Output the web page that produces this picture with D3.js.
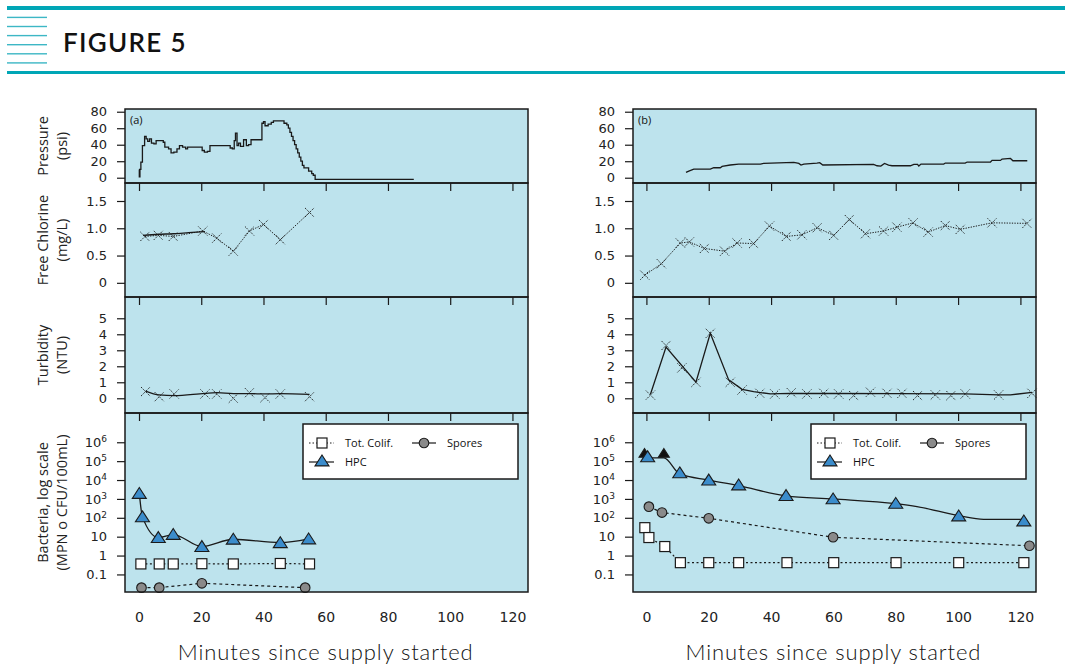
<!DOCTYPE html>
<html>
<head>
<meta charset="utf-8">
<script src="https://cdn.jsdelivr.net/npm/d3@7"></script>
<style>
  body { margin: 0; background: #fff; }
  svg { display: block; }
</style>
</head>
<body>
<script>
// Data (minutes since supply started, value)
//= ================================
var xTicks = [0, 20, 40, 60, 80, 100, 120];
var pressureTicks = [0, 20, 40, 60, 80];
var chlorineTicks = [0, 0.5, 1.0, 1.5];
var turbidityTicks = [0, 1, 2, 3, 4, 5];
var bacteriaTicks = [0.1, 1, 10, 1e2, 1e3, 1e4, 1e5, 1e6];

// (a) pressure, psi (step trace)
var pressureA = [[0.0, 10], [0.1, 1], [0.3, 10], [0.6, 19], [1.1, 39], [1.8, 50], [2.3, 47], [2.8, 44],
  [3.4, 47], [4.0, 42], [4.8, 41], [5.5, 45], [6.5, 45], [7.8, 43], [8.3, 37], [9.5, 35], [10.3, 30],
  [11.2, 31], [12.2, 35], [13.0, 39], [14.0, 37], [15.0, 35], [15.6, 37], [19.5, 37], [20.3, 33],
  [21.0, 31], [22.0, 32], [22.8, 39], [28.5, 39], [29.3, 36], [30.0, 35], [30.6, 45], [31.0, 54],
  [31.5, 39], [32.0, 42], [32.6, 38], [33.6, 46], [34.5, 39], [35.2, 40], [36.0, 46], [39.2, 46],
  [39.5, 66], [40.0, 68], [40.5, 63], [41.5, 65], [42.5, 67], [43.2, 69], [46.2, 69], [46.6, 66],
  [47.5, 64], [48.0, 60], [48.5, 55], [49.0, 50], [49.5, 45], [50.0, 40], [50.5, 35], [51.0, 30],
  [51.5, 25], [52.0, 20], [52.5, 15], [53.0, 12], [54.2, 12], [54.5, 8], [55.5, 5], [56.0, 3],
  [56.6, -2], [88.3, -2]];
// (b) pressure, psi
var pressureB = [[12.7, 6.5], [13.6, 8.1], [15.2, 10.5], [20.5, 10.5], [21.6, 12.1], [23.7, 12.1],
  [24.3, 13.7], [26.9, 15.4], [29.6, 16.6], [36.6, 16.6], [37.6, 17.4], [47.3, 18.6], [48.9, 17.4],
  [49.6, 15.4], [50.5, 16.6], [54.7, 17.8], [55.6, 18.2], [56.6, 15.4], [72.9, 16.2], [74.0, 14.5],
  [75.2, 14.1], [76.4, 17.4], [77.7, 15.4], [78.8, 14.5], [84.7, 14.5], [85.8, 16.2], [87.0, 16.2],
  [87.4, 14.1], [88.1, 16.6], [95.4, 16.6], [95.9, 17.8], [102.3, 17.8], [102.9, 19], [110.4, 19],
  [110.9, 21], [113.6, 21], [114.1, 22.6], [116.8, 23.4], [117.6, 20.6], [122.2, 20.6]];

// free chlorine, mg/L (grab samples) and continuous trace
var chlorineA = [[1.9, 0.85], [6.2, 0.87], [11.0, 0.85], [20.5, 0.95], [25.0, 0.82], [30.3, 0.58],
  [35.5, 0.95], [40.0, 1.07], [45.4, 0.79], [54.8, 1.29]];
var chlorineLineA = [[1.3, 0.87], [6.2, 0.89], [11.0, 0.9], [16.0, 0.92], [21.2, 0.94]];
var chlorineB = [[-0.5, 0.14], [4.8, 0.35], [10.9, 0.73], [13.8, 0.75], [18.6, 0.63], [25.1, 0.58],
  [29.1, 0.73], [34.4, 0.72], [39.5, 1.04], [44.9, 0.85], [49.9, 0.88], [54.8, 1.01], [60.1, 0.87],
  [65.1, 1.16], [70.3, 0.9], [76.1, 0.95], [80.4, 1.02], [85.6, 1.1], [90.4, 0.93], [95.9, 1.05],
  [100.7, 0.98], [110.9, 1.1], [122.1, 1.09]];

// turbidity, NTU
var turbidityA = [[2.1, 0.42], [6.5, 0.1], [11.3, 0.27], [21.2, 0.27], [25.0, 0.27], [30.3, 0.0],
  [35.5, 0.35], [40.5, 0.04], [45.4, 0.27], [54.8, 0.1]];
var turbidityLineA = [[2.1, 0.45], [6.5, 0.21], [11.3, 0.17], [21.2, 0.31], [25.0, 0.35], [30.3, 0.29],
  [35.5, 0.29], [40.5, 0.27], [45.4, 0.29], [54.8, 0.25]];
var turbidityB = [[1.3, 0.2], [6.3, 3.3], [11.4, 1.9], [15.9, 1.0], [20.5, 4.06], [26.9, 1.0],
  [30.7, 0.52], [36.4, 0.31], [41.2, 0.27], [46.5, 0.35], [51.5, 0.27], [56.9, 0.31], [61.7, 0.27],
  [66.5, 0.17], [71.9, 0.38], [77.2, 0.31], [82.0, 0.31], [87.0, 0.17], [92.7, 0.21], [97.7, 0.17],
  [102.3, 0.27], [113.0, 0.21], [123.7, 0.31]];
var turbidityLineB = [[1.3, 0.25], [6.3, 3.2], [15.9, 1.0], [20.5, 4.06], [26.4, 1.15], [30.7, 0.56],
  [34.4, 0.42], [39.8, 0.27], [46.0, 0.31], [60.0, 0.3], [80.0, 0.29], [102.3, 0.27], [113.0, 0.21],
  [116.8, 0.21], [123.7, 0.37]];

// bacteria, MPN or CFU/100mL
var hpcA = [[0.1, 1950], [1.1, 112], [6.2, 9], [11.0, 13], [20.2, 3], [30.3, 7.3], [45.4, 4.8], [54.5, 7.6]];
var colifA = [[0.6, 0.36], [6.5, 0.36], [11.0, 0.36], [20.2, 0.37], [30.3, 0.36], [45.4, 0.38], [54.8, 0.36]];
var sporesA = [[0.8, 0.02], [6.5, 0.02], [20.2, 0.034], [53.4, 0.02]];

var hpcB = [[0.4, 1.7e5], [10.7, 2.4e4], [20.0, 1e4], [29.6, 5.5e3], [44.8, 1.5e3], [59.9, 1e3],
  [80.0, 580], [100.2, 125], [121.1, 68]];
var hpcLineB = [[-0.6, 1.5e5], [5.6, 1.5e5], [10.7, 2.1e4], [20.0, 1e4], [29.6, 5e3], [44.8, 1.45e3],
  [59.9, 1e3], [80.0, 560], [86.8, 390], [100.2, 130], [108.2, 83], [121.1, 83]];
var hpcHighB = [[-0.6, 2.6e5], [5.6, 2.6e5]];
var colifB = [[-0.5, 30], [0.8, 9], [5.9, 3], [10.9, 0.42], [20.0, 0.42], [29.6, 0.42], [45.1, 0.42],
  [60.1, 0.42], [80.1, 0.42], [100.2, 0.42], [121.1, 0.42]];
var sporesB = [[0.8, 390], [5.0, 190], [20.0, 94], [59.9, 9.3], [122.9, 3.3]];

var legendNames = ["Tot. Colif.", "Spores", "HPC"];

// Step 1: Set up the page
//= ================================
var svgWidth = 1065;
var svgHeight = 664;
var teal = "#00a6b6";
var panelFill = "#bde3ed";
var blue = "#3b8ccb";
var ink = "#1a1a1a";

var svg = d3.select("body")
  .append("svg")
  .attr("width", svgWidth)
  .attr("height", svgHeight);

// header bar
svg.append("rect").attr("x", 7).attr("y", 6).attr("width", svgWidth - 7).attr("height", 4).attr("fill", teal);
svg.append("rect").attr("x", 7).attr("y", 71).attr("width", svgWidth - 7).attr("height", 3).attr("fill", teal);
d3.range(6).forEach(function(i) {
  svg.append("rect").attr("x", 7).attr("y", 16.7 + i * 9.1).attr("width", 40).attr("height", 1.4)
    .attr("fill", "#3db7c5");
});
svg.append("text").attr("x", 63).attr("y", 52)
  .style("font-family", "Lato, sans-serif").style("font-weight", 600).style("font-size", "26px")
  .style("letter-spacing", "1.3px")
  .attr("fill", "#111").text("FIGURE 5");

// Step 2: Scales
//= ================================
var rows = [
  {key: "pressure", top: 109, bottom: 183, ticks: pressureTicks, fmt: d3.format("d"), t1: "Pressure", t2: "(psi)"},
  {key: "chlorine", top: 183, bottom: 297, ticks: chlorineTicks, fmt: function(d) { return d === 0 ? "0" : d3.format(".1f")(d); }, t1: "Free Chlorine", t2: "(mg/L)"},
  {key: "turbidity", top: 297, bottom: 413, ticks: turbidityTicks, fmt: d3.format("d"), t1: "Turbidity", t2: "(NTU)"},
  {key: "bacteria", top: 413, bottom: 592, ticks: bacteriaTicks, fmt: null, t1: "Bacteria, log scale", t2: "(MPN o CFU/100mL)"}
];

var yScales = {
  pressure: d3.scaleLinear().domain([-6.4, 83.3]).range([183, 109]),
  chlorine: d3.scaleLinear().domain([-0.26, 1.83]).range([297, 183]),
  turbidity: d3.scaleLinear().domain([-0.92, 6.33]).range([413, 297]),
  bacteria: d3.scaleLog().domain([Math.pow(10, -1.93), Math.pow(10, 7.55)]).range([592, 413])
};

var panels = [
  {label: "(a)", left: 125, right: 528, domain: [-4.5, 125],
    pressure: pressureA, pressureCurve: d3.curveStepAfter,
    chlorine: chlorineA, chlorineLine: chlorineLineA,
    turbidity: turbidityA, turbidityLine: turbidityLineA, turbidityCurve: d3.curveMonotoneX,
    hpc: hpcA, hpcLine: hpcA, hpcHigh: [], colif: colifA, spores: sporesA, titles: true},
  {label: "(b)", left: 633, right: 1036, domain: [-4.3, 125],
    pressure: pressureB, pressureCurve: d3.curveLinear,
    chlorine: chlorineB, chlorineLine: [],
    turbidity: turbidityB, turbidityLine: turbidityLineB, turbidityCurve: d3.curveLinear,
    hpc: hpcB, hpcLine: hpcLineB, hpcHigh: hpcHighB, colif: colifB, spores: sporesB, titles: false}
];

var tickFont = "'DejaVu Sans', sans-serif";
var textFont = "'Open Sans', sans-serif";

function crossPath(g, data, x, y) {
  g.selectAll(null).data(data).enter().append("path")
    .attr("d", function(d) {
      var cx = x(d[0]), cy = y(d[1]), s = 4.5;
      return "M" + (cx - s) + "," + (cy - s) + "L" + (cx + s) + "," + (cy + s) +
        "M" + (cx - s) + "," + (cy + s) + "L" + (cx + s) + "," + (cy - s);
    })
    .attr("stroke", ink).attr("stroke-width", 1).attr("stroke-dasharray", "1.3,1.1").attr("fill", "none");
}

function triangle(cx, cy, s) {
  return "M" + cx + "," + (cy - s * 0.85) + "L" + (cx + s) + "," + (cy + s * 0.7) + "L" + (cx - s) + "," + (cy + s * 0.7) + "Z";
}

function drawSquare(g, cx, cy) {
  g.append("rect").attr("x", cx - 5).attr("y", cy - 5).attr("width", 10).attr("height", 10)
    .attr("fill", "#fff").attr("stroke", ink).attr("stroke-width", 1.2);
}
function drawCircle(g, cx, cy) {
  g.append("circle").attr("cx", cx).attr("cy", cy).attr("r", 4.8)
    .attr("fill", "#8a8a8a").attr("stroke", ink).attr("stroke-width", 1.1);
}
function drawTriangle(g, cx, cy, fill, s) {
  g.append("path").attr("d", triangle(cx, cy, s)).attr("fill", fill).attr("stroke", ink).attr("stroke-width", 1.1);
}

// Step 3: Draw each panel
//= ================================
panels.forEach(function(p) {
  var x = d3.scaleLinear().domain(p.domain).range([p.left, p.right]);
  var g = svg.append("g");

  rows.forEach(function(r) {
    g.append("rect").attr("x", p.left).attr("y", r.top)
      .attr("width", p.right - p.left).attr("height", r.bottom - r.top)
      .attr("fill", panelFill);
  });

  rows.forEach(function(r, i) {
    var y = yScales[r.key];
    var axis = d3.axisLeft(y).tickValues(r.ticks).tickSize(8).tickPadding(10);
    if (r.fmt) axis.tickFormat(r.fmt);
    var ag = g.append("g").attr("transform", "translate(" + p.left + ",0)").call(axis);
    ag.select(".domain").remove();
    ag.selectAll(".tick line").attr("stroke", ink).attr("stroke-width", 1.2);
    ag.selectAll(".tick text").style("font-family", tickFont).style("font-size", "13px").attr("fill", "#222");

    if (r.key === "bacteria") {
      ag.selectAll(".tick text").each(function(d) {
        var t = d3.select(this);
        var e = Math.round(Math.log10(d));
        t.text(null);
        if (e >= 2) {
          t.append("tspan").text("10");
          t.append("tspan").attr("dy", "-0.55em").style("font-size", "9px").text(e);
        } else {
          t.text(d < 1 ? "0.1" : d3.format("d")(d));
        }
      });
    }

    // inward ticks along the top of the lower panels
    if (i > 0) {
      var tg = g.append("g").attr("transform", "translate(0," + r.top + ")")
        .call(d3.axisBottom(x).tickValues(xTicks).tickSize(8).tickFormat(""));
      tg.select(".domain").remove();
      tg.selectAll(".tick line").attr("stroke", ink).attr("stroke-width", 1.2);
    }

    if (p.titles) {
      [r.t1, r.t2].forEach(function(t, k) {
        g.append("text")
          .attr("transform", "translate(" + (43 + k * 19) + "," + (r.top + r.bottom) / 2 + ") rotate(-90)")
          .attr("dy", "0.35em").attr("text-anchor", "middle")
          .style("font-family", textFont).style("font-size", "14.5px").attr("fill", "#222")
          .text(t);
      });
    }
  });

  // bottom labels
  var bx = g.append("g").attr("transform", "translate(0,592)")
    .call(d3.axisBottom(x).tickValues(xTicks).tickSize(0).tickPadding(20));
  bx.select(".domain").remove();
  bx.selectAll(".tick text").style("font-family", tickFont).style("font-size", "14px").attr("fill", "#222");

  g.append("text").attr("x", x(60)).attr("y", 660).attr("text-anchor", "middle")
    .style("font-family", "Lato, sans-serif").style("font-weight", 300).style("font-size", "22px")
    .style("letter-spacing", "0.9px")
    .attr("fill", "#111").text("Minutes since supply started");

  g.append("text").attr("x", p.left + 5).attr("y", 124)
    .style("font-family", textFont).style("font-size", "11px").attr("fill", "#111").text(p.label);

  // pressure
  var yP = yScales.pressure;
  g.append("path").datum(p.pressure)
    .attr("d", d3.line().curve(p.pressureCurve).x(d => x(d[0])).y(d => yP(d[1])))
    .attr("fill", "none").attr("stroke", ink).attr("stroke-width", 1.3);

  // chlorine
  var yC = yScales.chlorine;
  g.append("path").datum(p.chlorine)
    .attr("d", d3.line().x(d => x(d[0])).y(d => yC(d[1])))
    .attr("fill", "none").attr("stroke", ink).attr("stroke-width", 1).attr("stroke-dasharray", "1.3,1.3");
  if (p.chlorineLine.length) {
    g.append("path").datum(p.chlorineLine)
      .attr("d", d3.line().curve(d3.curveMonotoneX).x(d => x(d[0])).y(d => yC(d[1])))
      .attr("fill", "none").attr("stroke", ink).attr("stroke-width", 1.3);
  }
  crossPath(g, p.chlorine, x, yC);

  // turbidity
  var yT = yScales.turbidity;
  g.append("path").datum(p.turbidityLine)
    .attr("d", d3.line().curve(p.turbidityCurve).x(d => x(d[0])).y(d => yT(d[1])))
    .attr("fill", "none").attr("stroke", ink).attr("stroke-width", 1.3);
  crossPath(g, p.turbidity, x, yT);

  // bacteria
  var yB = yScales.bacteria;
  var line = d3.line().x(d => x(d[0])).y(d => yB(d[1]));
  g.append("path").datum(p.colif).attr("d", line)
    .attr("fill", "none").attr("stroke", ink).attr("stroke-width", 1.2).attr("stroke-dasharray", "2,2.5");
  g.append("path").datum(p.spores).attr("d", line)
    .attr("fill", "none").attr("stroke", ink).attr("stroke-width", 1.2).attr("stroke-dasharray", "3,3");
  g.append("path").datum(p.hpcLine).attr("d", line.curve(d3.curveMonotoneX))
    .attr("fill", "none").attr("stroke", ink).attr("stroke-width", 1.3);
  line.curve(d3.curveLinear);

  p.colif.forEach(d => drawSquare(g, x(d[0]), yB(d[1])));
  p.spores.forEach(d => drawCircle(g, x(d[0]), yB(d[1])));
  p.hpcHigh.forEach(d => drawTriangle(g, x(d[0]), yB(d[1]), "#111", 5.5));
  p.hpc.forEach(d => drawTriangle(g, x(d[0]), yB(d[1]), blue, 7));

  // legend
  var lx = p.right - 225, ly = 424;
  var lg = g.append("g").attr("transform", "translate(" + lx + "," + ly + ")");
  lg.append("rect").attr("width", 215).attr("height", 55)
    .attr("fill", "#fff").attr("stroke", ink).attr("stroke-width", 1.5);
  lg.append("line").attr("x1", 6).attr("x2", 31).attr("y1", 19).attr("y2", 19)
    .attr("stroke", ink).attr("stroke-dasharray", "1.5,2");
  drawSquare(lg, 19, 19);
  lg.append("line").attr("x1", 109).attr("x2", 133).attr("y1", 19).attr("y2", 19).attr("stroke", ink).attr("stroke-width", 1.2);
  drawCircle(lg, 121, 19);
  lg.append("line").attr("x1", 6).attr("x2", 31).attr("y1", 38).attr("y2", 38).attr("stroke", ink).attr("stroke-width", 1.2);
  drawTriangle(lg, 19, 37, blue, 7);
  [[42, 23], [144, 23], [42, 42]].forEach(function(pos, i) {
    lg.append("text").attr("x", pos[0]).attr("y", pos[1])
      .style("font-family", textFont).style("font-size", "11px").attr("fill", "#111")
      .text(legendNames[i]);
  });

  // panel borders on top
  rows.forEach(function(r) {
    g.append("rect").attr("x", p.left).attr("y", r.top)
      .attr("width", p.right - p.left).attr("height", r.bottom - r.top)
      .attr("fill", "none").attr("stroke", ink).attr("stroke-width", 1.5);
  });
});
</script>
</body>
</html>
